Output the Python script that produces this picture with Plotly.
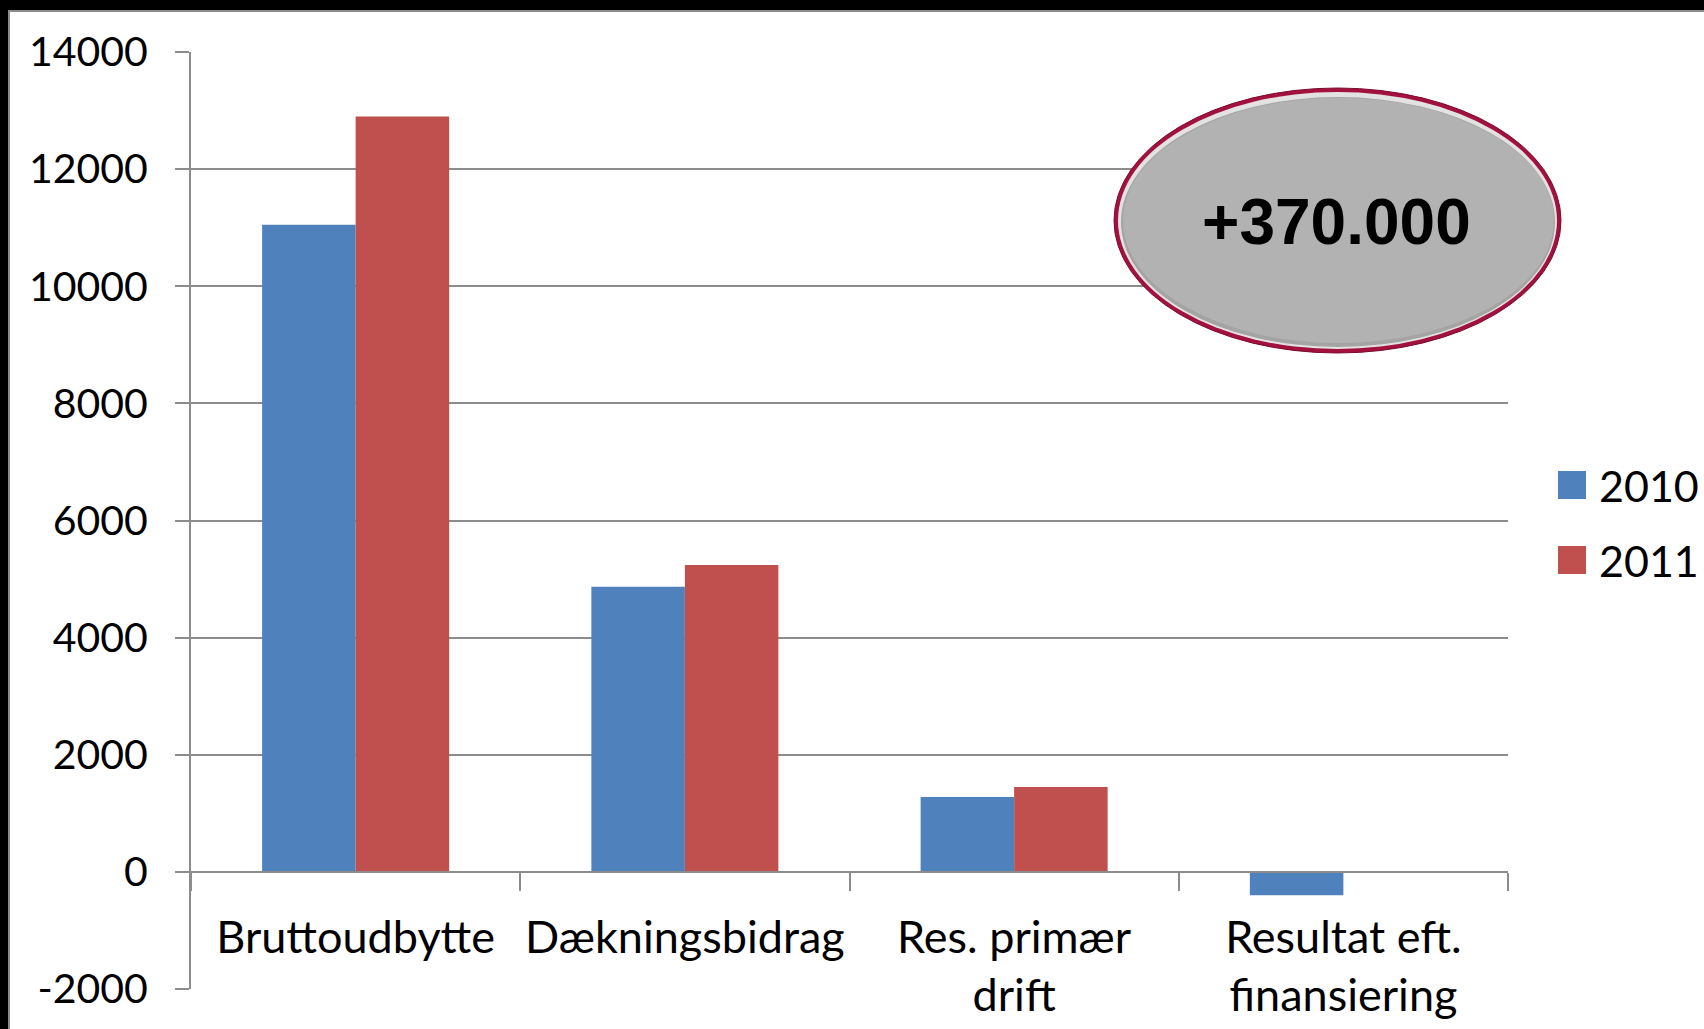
import plotly.graph_objects as go

categories = ["Bruttoudbytte", "Dækningsbidrag", "Res. primær<br>drift", "Resultat eft.<br>finansiering"]
series_names = ["2010", "2011"]
values_2010 = [11050, 4870, 1280, -400]
values_2011 = [12900, 5240, 1450, 10]
colors = ["#4f81bd", "#c0504d"]
y_ticks = [-2000, 0, 2000, 4000, 6000, 8000, 10000, 12000, 14000]
badge_text = "+370.000"

W, H = 1704, 1029
L, R, T, B = 191, 1508, 52, 989
PW, PH = R - L, B - T


def px(x):
    return (x - L) / PW


def py(y):
    return (B - y) / PH


FONT = "Lato, 'Open Sans', sans-serif"
GRID = "#8c8c8c"

fig = go.Figure()
for name, vals, col in zip(series_names, [values_2010, values_2011], colors):
    fig.add_trace(go.Bar(x=categories, y=vals, name=name, marker=dict(color=col, line=dict(width=0)),
                         showlegend=False))

fig.update_layout(
    width=W, height=H,
    margin=dict(l=L, r=W - R, t=T, b=H - B, autoexpand=False),
    paper_bgcolor="white", plot_bgcolor="white",
    barmode="group", bargap=0.432, bargroupgap=0,
    font=dict(family=FONT, size=42, color="black"),
)
fig.update_yaxes(
    range=[-2000, 14000], tickvals=y_ticks, ticktext=[str(v) for v in y_ticks],
    domain=[0, 1], showgrid=True, gridcolor=GRID, gridwidth=2, zeroline=False,
    showline=True, linecolor=GRID, linewidth=2, ticks="outside", ticklen=14,
    tickcolor=GRID, tickwidth=2, ticklabelstandoff=19, automargin=False,
    tickfont=dict(family=FONT, size=41, color="black"),
)
fig.update_xaxes(
    anchor="free", position=2000 / 16000, range=[-0.5, 3.5],
    showline=True, linecolor=GRID, linewidth=2, showgrid=False,
    ticks="outside", tickson="boundaries", ticklen=18, tickcolor=GRID, tickwidth=2,
    ticklabelstandoff=26, tickangle=0, automargin=False,
    tickfont=dict(family=FONT, size=45, color="black"),
)

shapes = []
# black frame on top and left
shapes.append(dict(type="rect", xref="paper", yref="paper", x0=px(-5), x1=px(W + 5), y0=py(10), y1=py(-5),
                   fillcolor="black", line=dict(width=0), layer="above"))
shapes.append(dict(type="rect", xref="paper", yref="paper", x0=px(-5), x1=px(8), y0=py(H + 5), y1=py(-5),
                   fillcolor="black", line=dict(width=0), layer="above"))
shapes.append(dict(type="line", xref="paper", yref="paper", x0=px(8), x1=px(W + 5), y0=py(11), y1=py(11),
                   line=dict(color="#8c8c8c", width=2), layer="above"))
shapes.append(dict(type="line", xref="paper", yref="paper", x0=px(9), x1=px(9), y0=py(10), y1=py(H + 5),
                   line=dict(color="#8c8c8c", width=2), layer="above"))
# badge ellipse
shapes.append(dict(type="circle", xref="paper", yref="paper", x0=px(1114), x1=px(1561), y0=py(353), y1=py(88),
                   fillcolor="#a3123f", line=dict(color="#7e0a30", width=1), layer="above"))
shapes.append(dict(type="circle", xref="paper", yref="paper", x0=px(1118), x1=px(1557), y0=py(349), y1=py(92),
                   fillcolor="#e2e2e2", line=dict(width=0), layer="above"))
shapes.append(dict(type="circle", xref="paper", yref="paper", x0=px(1121), x1=px(1555), y0=py(347), y1=py(97),
                   fillcolor="#a4a4a4", line=dict(width=0), layer="above"))
shapes.append(dict(type="circle", xref="paper", yref="paper", x0=px(1123), x1=px(1554), y0=py(343), y1=py(98),
                   fillcolor="#b2b2b2", line=dict(width=0), layer="above"))
# manual legend squares
leg_y = [485, 560]
for i, (name, col) in enumerate(zip(series_names, colors)):
    shapes.append(dict(type="rect", xref="paper", yref="paper", x0=px(1558), x1=px(1586),
                       y0=py(leg_y[i] + 14), y1=py(leg_y[i] - 14), fillcolor=col, line=dict(width=0)))
fig.update_layout(shapes=shapes)

annotations = [dict(xref="paper", yref="paper", x=px(1336), y=py(222), text="<b>" + badge_text + "</b>",
                    showarrow=False, xanchor="center", yanchor="middle",
                    font=dict(family="'Liberation Sans', Arial, sans-serif", size=64, color="black"))]
for i, name in enumerate(series_names):
    annotations.append(dict(xref="paper", yref="paper", x=px(1597), y=py(leg_y[i]), text=name,
                            showarrow=False, xanchor="left", yanchor="middle",
                            font=dict(family=FONT, size=43, color="black")))
fig.update_layout(annotations=annotations)

fig.write_html("out.html", config={"displayModeBar": False},
               post_script="document.body.style.margin='0';document.body.style.padding='0';"
                           "document.body.style.background='white';"
                           "document.documentElement.style.overflow='hidden';")
